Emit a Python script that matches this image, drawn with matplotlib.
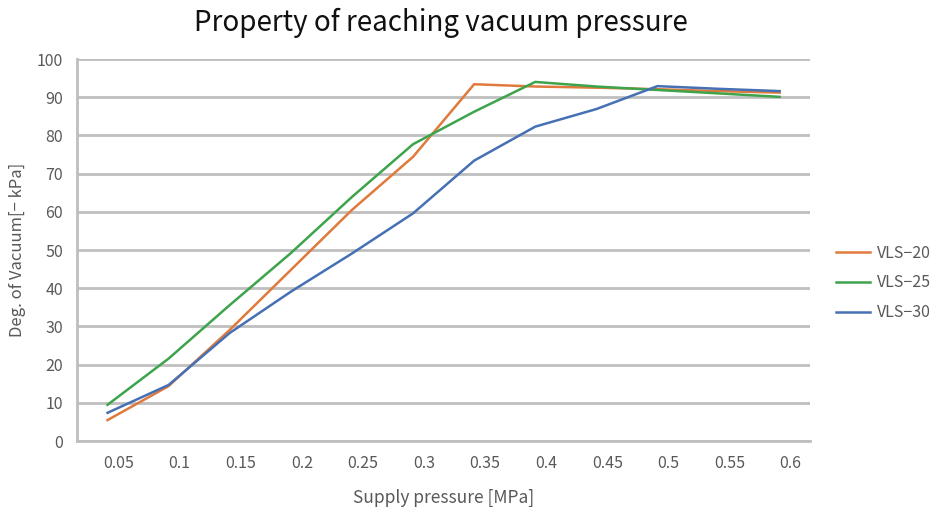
import matplotlib.pyplot as plt
import matplotlib.transforms as mtransforms

plt.rcParams['font.family'] = ['Noto Sans CJK KR', 'DejaVu Sans']

pressure = ['0.05', '0.1', '0.15', '0.2', '0.25', '0.3', '0.35', '0.4', '0.45', '0.5', '0.55', '0.6']
vls20 = [5.5, 14.4, 29.1, 44.8, 60.5, 74.4, 93.4, 92.8, 92.5, 92.1, 91.6, 91.2]
vls25 = [9.5, 21.6, 35.6, 49.2, 63.9, 77.7, 86.2, 94.0, 92.8, 91.9, 91.0, 90.1]
vls30 = [7.4, 14.7, 28.3, 39.1, 49.1, 59.6, 73.4, 82.3, 86.9, 92.9, 92.2, 91.6]

series = [('VLS\u221220', vls20, '#E07A3C'),
          ('VLS\u221225', vls25, '#3DA44C'),
          ('VLS\u221230', vls30, '#4670B4')]

txt = '#595959'
grid = '#BFBFBF'

fig = plt.figure(figsize=(9.4, 5.07), dpi=100)
ax = fig.add_axes([0.0819, 0.130, 0.780, 0.7536])

x = list(range(len(pressure)))
for name, vals, col in series:
    ax.plot(x, vals, color=col, lw=1.8, label=name)

ax.set_xlim(-0.5, len(pressure) - 0.5)
ax.set_ylim(0, 100)
ax.set_yticks(range(0, 101, 10))
ax.set_xticks(x)
ax.set_xticklabels(pressure)
ax.grid(axis='y', color=grid, lw=2)
ax.set_axisbelow(True)
for s in ['top', 'right']:
    ax.spines[s].set_visible(False)
for s in ['left', 'bottom']:
    ax.spines[s].set_color(grid)
    ax.spines[s].set_linewidth(2)
ax.tick_params(length=0, colors=txt, labelsize=11.5, pad=10)

# labels in the reference sit a bit right of the points
off = mtransforms.ScaledTranslation(11 / 100, 0, fig.dpi_scale_trans)
for lab in ax.get_xticklabels():
    lab.set_transform(lab.get_transform() + off)

ax.set_xlabel('Supply pressure [MPa]', color=txt, fontsize=12.5, labelpad=12)
ax.set_ylabel('Deg. of Vacuum[\u2212 kPa]', color=txt, fontsize=12, labelpad=8)
fig.suptitle('Property of reaching vacuum pressure', x=0.469, y=0.985,
             fontsize=20, color='#111111')

leg = ax.legend(loc='center left', bbox_to_anchor=(1.027, 0.414), frameon=False,
                borderaxespad=0, fontsize=11.5, handlelength=2.1,
                handletextpad=0.45, labelspacing=0.8)
for t in leg.get_texts():
    t.set_color(txt)

fig.savefig('out.png', dpi=100)
